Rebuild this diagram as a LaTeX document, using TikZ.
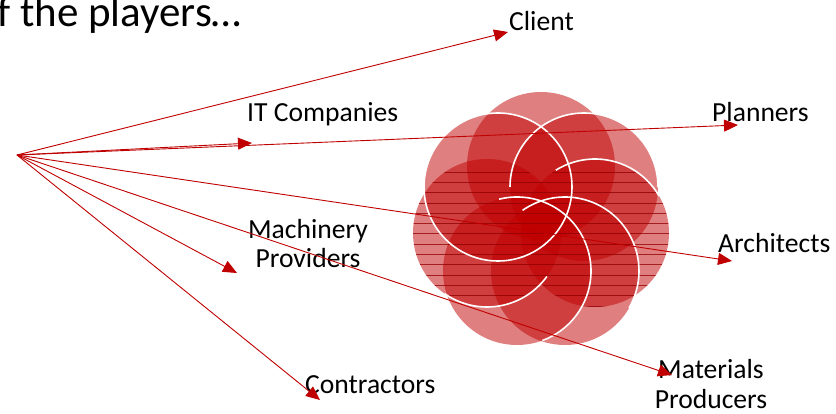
\documentclass[tikz,border=0pt]{standalone}
\usepackage{fontspec}
\setmainfont{Carlito}
\usetikzlibrary{arrows.meta}
\definecolor{dred}{HTML}{C00000}
\begin{document}
\begin{tikzpicture}[x=1pt,y=-1pt,
  lbl/.style={font=\fontsize{27.6}{29}\selectfont, inner sep=0pt, text=black},
  conn/.style={draw=dred, line width=0.9pt, -{Triangle[length=14pt,width=12pt]}},
  petal/.style={fill=dred, fill opacity=0.5},
  rim/.style={draw=white, line width=1.6pt},
  hatch/.style={draw=dred!75!black, line width=0.6pt, draw opacity=0.75}]
\useasboundingbox (0,0) rectangle (836,414);
\fill[white] (0,0) rectangle (836,414);
% petals
\coordinate (c1) at (541,166);
\coordinate (c2) at (498,187);
\coordinate (c3) at (584,187);
\coordinate (c4) at (595,233);
\coordinate (c5) at (565,271);
\coordinate (c6) at (517,271);
\coordinate (c7) at (487,233);
\foreach \c in {c1,c7,c6,c5,c4,c3,c2} \fill[petal] (\c) circle[radius=74];
\begin{scope}
  \clip (c4) circle[radius=74] (c7) circle[radius=74];
  \foreach \y in {172,182.3,...,307} \draw[hatch] (405,\y) -- (675,\y);
\end{scope}
\draw[rim] (c2) circle[radius=74];
\draw[rim] (c3) ++(180:74) arc[start angle=180, end angle=360, radius=74];
\draw[rim] (c4) ++(238:74) arc[start angle=238, end angle=330, radius=74];
\draw[rim] (c5) ++(235:74) arc[start angle=235, end angle=390, radius=74];
\draw[rim] (c6) ++(256:74) arc[start angle=256, end angle=430, radius=74];
\draw[rim] (c7) ++(36:74) arc[start angle=36, end angle=125, radius=74];
% labels
\node[lbl, font=\fontsize{43}{50}\selectfont, anchor=base west] (title) at (-3,27) {f the players…};
\node[lbl, anchor=base west] (client) at (509,31) {Client};
\node[lbl, anchor=base west] (it) at (247,122) {IT Companies};
\node[lbl, anchor=base west] (plan) at (712,122) {Planners};
\node[lbl, anchor=base west] (arch) at (718,253) {Architects};
\node[lbl, anchor=base, align=center] (mach) at (308,268) {Machinery\\Providers};
\node[lbl, anchor=base west] (con) at (305,393) {Contractors};
\node[lbl, anchor=base, align=center, font=\fontsize{27.6}{30}\selectfont] (mat) at (711,408) {Materials\\Producers};
% connectors
\coordinate (o) at (17,155);
\coordinate (tClient) at (508,32);
\coordinate (tIT) at (252,143);
\coordinate (tPlan) at (738,125);
\coordinate (tArch) at (732,261);
\coordinate (tMach) at (237,273);
\coordinate (tMat) at (672,375);
\coordinate (tCon) at (320,400);
\foreach \t in {tClient,tIT,tPlan,tArch,tMach,tMat,tCon} \draw[conn] (o) -- (\t);
\end{tikzpicture}
\end{document}
